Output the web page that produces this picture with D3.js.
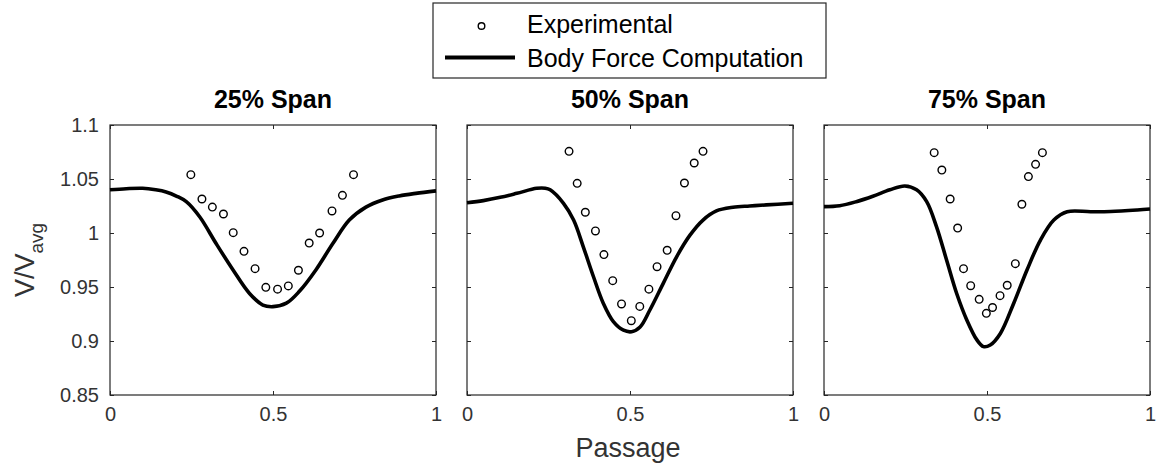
<!DOCTYPE html>
<html><head><meta charset="utf-8">
<script src="https://cdn.jsdelivr.net/npm/d3@7"></script>
<style>body{margin:0;background:#fff}svg{display:block}text{font-family:"Liberation Sans",Arial,sans-serif}</style>
</head><body><svg id="c" width="1157" height="465"></svg>
<script>
const panelTitles = ["25% Span", "50% Span", "75% Span"];
const yTicks = [0.85, 0.9, 0.95, 1, 1.05, 1.1];
const yTickLabels = ["0.85", "0.9", "0.95", "1", "1.05", "1.1"];
const xTicks = [0, 0.5, 1];
const xTickLabels = ["0", "0.5", "1"];

// Experimental points
const exp25x = [0.248,0.282,0.314,0.348,0.378,0.411,0.445,0.478,0.514,0.547,0.578,0.611,0.643,0.681,0.713,0.747];
const exp25y = [1.054,1.0315,1.024,1.0176,1.0003,0.983,0.967,0.9497,0.948,0.951,0.9655,0.9907,1.0,1.0204,1.0349,1.054];
const exp50x = [0.313,0.338,0.363,0.394,0.420,0.447,0.474,0.504,0.530,0.558,0.583,0.614,0.641,0.667,0.697,0.724];
const exp50y = [1.0756,1.046,1.0192,1.0019,0.980,0.9559,0.9343,0.9188,0.932,0.948,0.9688,0.984,1.016,1.0463,1.0648,1.0756];
const exp75x = [0.338,0.3615,0.387,0.410,0.428,0.450,0.476,0.498,0.517,0.540,0.562,0.587,0.607,0.627,0.649,0.670];
const exp75y = [1.0744,1.0583,1.0315,1.0046,0.967,0.9512,0.9386,0.9256,0.931,0.942,0.9516,0.9716,1.0266,1.0522,1.0636,1.0744];

// Body force computation
const bf25x = [0,0.05,0.1,0.14,0.172,0.205,0.234,0.275,0.326,0.377,0.428,0.469,0.5,0.541,0.581,0.632,0.683,0.734,0.785,0.836,0.887,0.938,1.0];
const bf25y = [1.040,1.041,1.0414,1.040,1.038,1.034,1.029,1.015,0.990,0.966,0.944,0.9333,0.9318,0.935,0.946,0.966,0.990,1.012,1.024,1.0306,1.0343,1.0367,1.039];
const bf50x = [0,0.05,0.102,0.153,0.214,0.24,0.255,0.296,0.327,0.357,0.388,0.418,0.449,0.480,0.505,0.531,0.561,0.602,0.643,0.684,0.724,0.765,0.816,0.867,0.918,1.0];
const bf50y = [1.028,1.030,1.033,1.0367,1.0414,1.0415,1.040,1.0275,1.012,0.987,0.9595,0.935,0.918,0.910,0.9086,0.913,0.9287,0.9534,0.978,0.998,1.012,1.0204,1.0238,1.025,1.026,1.0275];
const bf75x = [0,0.048,0.099,0.150,0.202,0.248,0.284,0.315,0.345,0.376,0.407,0.438,0.469,0.489,0.510,0.541,0.582,0.623,0.664,0.705,0.746,0.818,0.879,0.961,1.0];
const bf75y = [1.0244,1.0253,1.029,1.034,1.040,1.0435,1.040,1.029,1.0059,0.975,0.944,0.9195,0.901,0.8948,0.8963,0.907,0.935,0.966,0.9935,1.012,1.0197,1.0197,1.0199,1.0213,1.0222];

const panels = [
  {title: panelTitles[0], ex: exp25x, ey: exp25y, lx: bf25x, ly: bf25y},
  {title: panelTitles[1], ex: exp50x, ey: exp50y, lx: bf50x, ly: bf50y},
  {title: panelTitles[2], ex: exp75x, ey: exp75y, lx: bf75x, ly: bf75y}
];

const svg = d3.select("#c");
const lefts = [110, 467, 824];
const pw = 326, plotTop = 125, plotBottom = 395;
const y = d3.scaleLinear().domain([0.85, 1.1]).range([plotBottom, plotTop]);
const tickColor = "#262626";
const labelColor = "#333";
const font = "Liberation Sans, Arial, sans-serif";

panels.forEach((p, i) => {
  const x = d3.scaleLinear().domain([0, 1]).range([lefts[i], lefts[i] + pw]);
  const g = svg.append("g");
  g.append("rect").attr("x", lefts[i]).attr("y", plotTop).attr("width", pw).attr("height", plotBottom - plotTop)
    .attr("fill", "#fff").attr("stroke", tickColor).attr("stroke-width", 1.2);
  const ax = (gen, tr) => {
    const a = g.append("g").attr("transform", tr).call(gen);
    a.select(".domain").remove();
    a.selectAll("line").attr("stroke", tickColor);
    return a;
  };
  const bx = ax(d3.axisBottom(x).tickValues(xTicks).tickSize(-4).tickPadding(12).tickFormat((d, k) => xTickLabels[k]), `translate(0,${plotBottom})`);
  bx.selectAll("text").attr("font-size", 20).attr("fill", labelColor).attr("font-family", font);
  ax(d3.axisTop(x).tickValues(xTicks).tickSize(-4).tickFormat(""), `translate(0,${plotTop})`);
  const ly = ax(d3.axisLeft(y).tickValues(yTicks).tickSize(-4).tickPadding(11).tickFormat((d, k) => i === 0 ? yTickLabels[k] : ""), `translate(${lefts[i]},0)`);
  ly.selectAll("text").attr("font-size", 20).attr("fill", labelColor).attr("font-family", font);
  ax(d3.axisRight(y).tickValues(yTicks).tickSize(-4).tickFormat(""), `translate(${lefts[i] + pw},0)`);

  const lineData = p.lx.map((v, k) => [v, p.ly[k]]);
  g.append("path").datum(lineData)
    .attr("d", d3.line().x(d => x(d[0])).y(d => y(d[1])).curve(d3.curveCatmullRom.alpha(0.5)))
    .attr("fill", "none").attr("stroke", "#000").attr("stroke-width", 3.6);
  g.selectAll("circle.e").data(p.ex.map((v, k) => [v, p.ey[k]])).enter().append("circle")
    .attr("cx", d => x(d[0])).attr("cy", d => y(d[1])).attr("r", 3.8)
    .attr("fill", "#fff").attr("stroke", "#000").attr("stroke-width", 1.4);
  g.append("text").attr("x", lefts[i] + pw / 2).attr("y", 108).attr("text-anchor", "middle")
    .attr("font-size", 25).attr("font-weight", "bold").attr("fill", "#000").text(p.title);
});

svg.append("text").attr("x", 628).attr("y", 457).attr("text-anchor", "middle").attr("font-size", 27).attr("fill", labelColor).text("Passage");
const yl = svg.append("text").attr("transform", "translate(33.5,297) rotate(-90)").attr("text-anchor", "start").attr("font-size", 27).attr("fill", labelColor);
yl.append("tspan").text("V/V");
yl.append("tspan").attr("font-size", 19).attr("dy", 9.5).text("avg");

const lg = svg.append("g");
lg.append("rect").attr("x", 433).attr("y", 3).attr("width", 393).attr("height", 75).attr("fill", "#fff").attr("stroke", tickColor).attr("stroke-width", 1.2);
lg.append("circle").attr("cx", 481.5).attr("cy", 26).attr("r", 3.3).attr("fill", "#fff").attr("stroke", "#000").attr("stroke-width", 1.4);
lg.append("line").attr("x1", 445).attr("x2", 515).attr("y1", 57.5).attr("y2", 57.5).attr("stroke", "#000").attr("stroke-width", 4);
lg.append("text").attr("x", 527).attr("y", 33).attr("font-size", 25).attr("fill", "#000").text("Experimental");
lg.append("text").attr("x", 527).attr("y", 66.5).attr("font-size", 25).attr("fill", "#000").text("Body Force Computation");
</script></body></html>
